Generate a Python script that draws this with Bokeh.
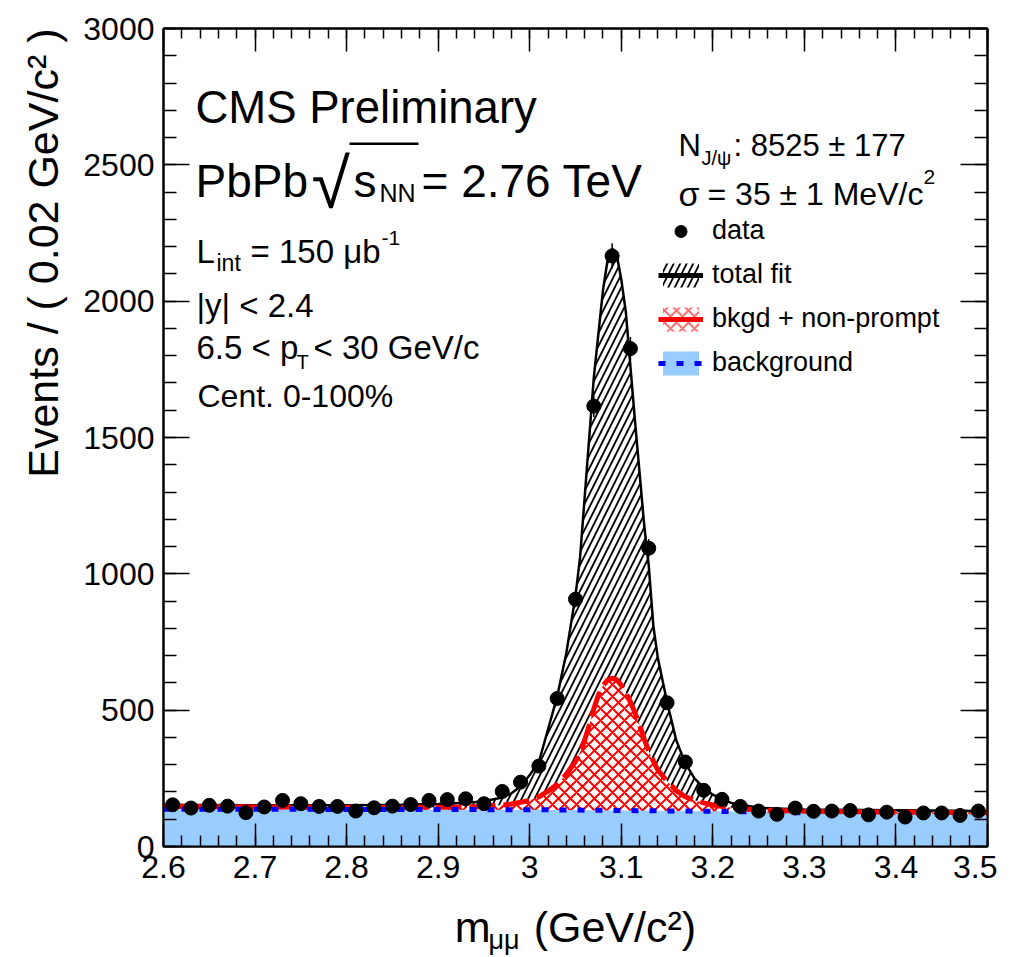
import numpy as np
from bokeh.plotting import figure
from bokeh.models import (Label, Legend, LegendItem, LinearAxis, SingleIntervalTicker,
                          NumeralTickFormatter, CustomJSTickFormatter, BoxAnnotation, Title)
from bokeh.embed import file_html
from bokeh.resources import INLINE

# dimuon mass bins (bin centres, GeV/c^2) and events per bin
mass = [2.61, 2.63, 2.65, 2.67, 2.69, 2.71, 2.73, 2.75, 2.77, 2.79,
        2.81, 2.83, 2.85, 2.87, 2.89, 2.91, 2.93, 2.95, 2.97, 2.99,
        3.01, 3.03, 3.05, 3.07, 3.09, 3.11, 3.13, 3.15, 3.17, 3.19,
        3.21, 3.23, 3.25, 3.27, 3.29, 3.31, 3.33, 3.35, 3.37, 3.39,
        3.41, 3.43, 3.45, 3.47, 3.49]
counts = [153, 141, 151, 148, 124, 145, 169, 157, 147, 147,
          130, 142, 148, 154, 169, 172, 175, 157, 202, 236,
          295, 543, 907, 1615, 2166, 1826, 1094, 527, 310, 206,
          173, 147, 130, 118, 141, 129, 130, 132, 116, 126,
          108, 123, 123, 114, 130]

# fit curves
fit_mass = [2.60, 2.70, 2.80, 2.86, 2.90, 2.93, 2.95, 2.97, 2.98, 2.99,
            3.00, 3.01, 3.02, 3.03, 3.04, 3.05, 3.055, 3.06, 3.065, 3.07,
            3.075, 3.08, 3.085, 3.09, 3.095, 3.10, 3.105, 3.11, 3.115, 3.12,
            3.125, 3.13, 3.135, 3.14, 3.15, 3.16, 3.17, 3.18, 3.19, 3.20,
            3.22, 3.25, 3.30, 3.40, 3.50]
fit_total = [153, 151, 151, 153, 156, 160, 166, 180, 195, 220,
             262, 310, 430, 550, 710, 920, 1060, 1280, 1500, 1720,
             1880, 2040, 2150, 2193, 2170, 2080, 1960, 1760, 1560, 1370,
             1180, 1030, 810, 690, 530, 390, 305, 250, 215, 190,
             160, 142, 136, 133, 130]
fit_nonprompt = [147, 145, 144, 144, 144, 145, 147, 152, 156, 162,
                 170, 182, 203, 228, 265, 312, 345, 390, 445, 505,
                 555, 590, 610, 617, 612, 592, 565, 530, 490, 445,
                 395, 350, 313, 280, 240, 205, 182, 170, 160, 152,
                 142, 134, 129, 126, 124]
bkg_mass = [2.6, 2.8, 3.0, 3.1, 3.2, 3.3, 3.4, 3.5]
bkg = [137, 136, 135, 132, 129, 124, 120, 117]

FONT = "Liberation Sans"
X0, Y0 = 163, 846  # frame bottom-left in page pixels

p = figure(x_range=(2.6, 3.5), y_range=(0, 3000), frame_width=824, frame_height=818,
           min_border_left=163, min_border_top=28, min_border_right=10, min_border_bottom=109,
           output_backend="svg", toolbar_location=None)
p.grid.grid_line_color = None
p.outline_line_color = "black"
p.outline_line_width = 2

xt = SingleIntervalTicker(interval=0.1, num_minor_ticks=5)
yt = SingleIntervalTicker(interval=500, num_minor_ticks=5)


def style_axis(ax, tick, minor, ticker):
    ax.ticker = ticker
    ax.axis_line_width = 2
    ax.major_tick_in = tick
    ax.major_tick_out = 0
    ax.minor_tick_in = minor
    ax.minor_tick_out = 0
    ax.major_tick_line_width = 1.5
    ax.minor_tick_line_width = 1.5
    ax.major_label_text_font = FONT
    ax.major_label_text_font_size = "32px"
    ax.major_label_text_color = "black"


style_axis(p.xaxis[0], 23, 11, xt)
p.xaxis[0].formatter = NumeralTickFormatter(format="0.[0]")
p.xaxis[0].major_label_standoff = 9
p.xaxis[0].axis_label = "m\u2002\u2002(GeV/c\u00b2)"
p.xaxis[0].axis_label_text_font = FONT
p.xaxis[0].axis_label_text_font_style = "normal"
p.xaxis[0].axis_label_text_font_size = "43px"
p.xaxis[0].axis_label_text_color = "black"
p.xaxis[0].axis_label_standoff = 22
style_axis(p.yaxis[0], 26, 13, yt)
p.yaxis[0].major_label_standoff = 9

top = LinearAxis(formatter=CustomJSTickFormatter(code="return ''"))
style_axis(top, 23, 10, xt)
p.add_layout(top, "above")
right = LinearAxis(formatter=CustomJSTickFormatter(code="return ''"))
style_axis(right, 27, 13, yt)
p.add_layout(right, "right")

# y title, aligned to the top end like ROOT does
p.add_layout(Title(text="Events / ( 0.02 GeV/c\u00b2 )", align="right", offset=0, standoff=28,
                   text_font=FONT, text_font_style="normal", text_font_size="43px",
                   text_color="black"), "left")
# subscript of the x title
p.add_layout(Title(text="\u03bc\u03bc", align="left", offset=488 - X0, standoff=-57,
                   vertical_align="top", text_font=FONT, text_font_style="normal",
                   text_font_size="27px", text_color="black"), "below")

# areas
tot_area = p.varea(x=fit_mass, y1=0, y2=fit_total, fill_alpha=0,
                   hatch_pattern="/", hatch_color="black", hatch_weight=1.8, hatch_scale=13)
p.varea(x=fit_mass, y1=0, y2=fit_nonprompt, fill_color="white",
        hatch_pattern="x", hatch_color="red", hatch_weight=2, hatch_scale=12)
bkg_area = p.varea(x=bkg_mass, y1=0, y2=bkg, fill_color="#99ccff")

# curves
p.line(fit_mass, fit_total, line_color="black", line_width=2.5)
p.line(fit_mass, fit_nonprompt, line_color="red", line_width=5, line_dash="26 8")
bkg_line = p.line(bkg_mass, bkg, line_color="blue", line_width=5, line_dash="7 11")

# data with poisson errors
err = np.sqrt(np.array(counts, dtype=float))
p.segment(x0=mass, y0=np.array(counts) - err, x1=mass, y1=np.array(counts) + err,
          line_color="black", line_width=1.5)
pts = p.scatter(mass, counts, size=14, color="black")

# legend-only swatches, kept below the visible range
hidden = [-500] * len(bkg_mass)
leg_black = p.line(bkg_mass, hidden, line_color="black", line_width=5)
leg_red_area = p.varea(x=bkg_mass, y1=-600, y2=hidden, fill_alpha=0, hatch_pattern="x",
                       hatch_color="#ff7070", hatch_weight=2, hatch_scale=12)
leg_red = p.line(bkg_mass, hidden, line_color="red", line_width=5)

legend = Legend(items=[
    LegendItem(label="data", renderers=[pts]),
    LegendItem(label="total fit", renderers=[tot_area, leg_black]),
    LegendItem(label="bkgd + non-prompt", renderers=[leg_red_area, leg_red]),
    LegendItem(label="background", renderers=[bkg_area, bkg_line]),
], location=(658 - X0, Y0 - 378), glyph_width=45, glyph_height=30, label_height=30,
    label_standoff=9, spacing=13, padding=0, margin=0, border_line_color=None,
    background_fill_alpha=0, label_text_font=FONT, label_text_font_size="27px",
    label_text_color="black")
p.add_layout(legend)


def txt(s, x, y, size, font=FONT):
    p.add_layout(Label(x=x - X0, y=Y0 - y, x_units="screen", y_units="screen", text=s,
                       text_font=font, text_font_size=f"{size}px", text_color="black",
                       text_align="left", text_baseline="alphabetic"))


txt("CMS Preliminary", 195, 107, 45.5)
txt("PbPb", 195, 180, 46)
txt("\u221a", 311, 183, 70)
txt("s", 353, 180, 46)
txt("NN", 379, 192, 25)
txt("= 2.76 TeV", 421, 180, 46)
p.add_layout(BoxAnnotation(left=349 - X0, right=418 - X0, top=Y0 - 142, bottom=Y0 - 144.5,
                           left_units="screen", right_units="screen", top_units="screen",
                           bottom_units="screen", fill_color="black", fill_alpha=1,
                           line_color=None, level="overlay"))
txt("L", 196, 251, 33)
txt("int", 216, 262, 23)
txt("= 150 \u03bcb", 250, 251, 33)
txt("-1", 381, 237, 21)
txt("|y| < 2.4", 196, 305, 33)
txt("6.5 < p", 196, 347, 33)
txt("T", 296, 361, 20)
txt("< 30 GeV/c", 313, 347, 33)
txt("Cent. 0-100%", 197, 395, 32)

txt("N", 678, 145, 31)
txt("J/\u03c8", 701, 157, 20)
txt(": 8525 \u00b1 177", 733, 145, 31)
txt("\u03c3", 678, 193, 34)
txt("= 35 \u00b1 1 MeV/c", 707, 193, 32)
txt("2", 923, 176, 21)

open("out.html", "w").write(file_html(p, INLINE))
